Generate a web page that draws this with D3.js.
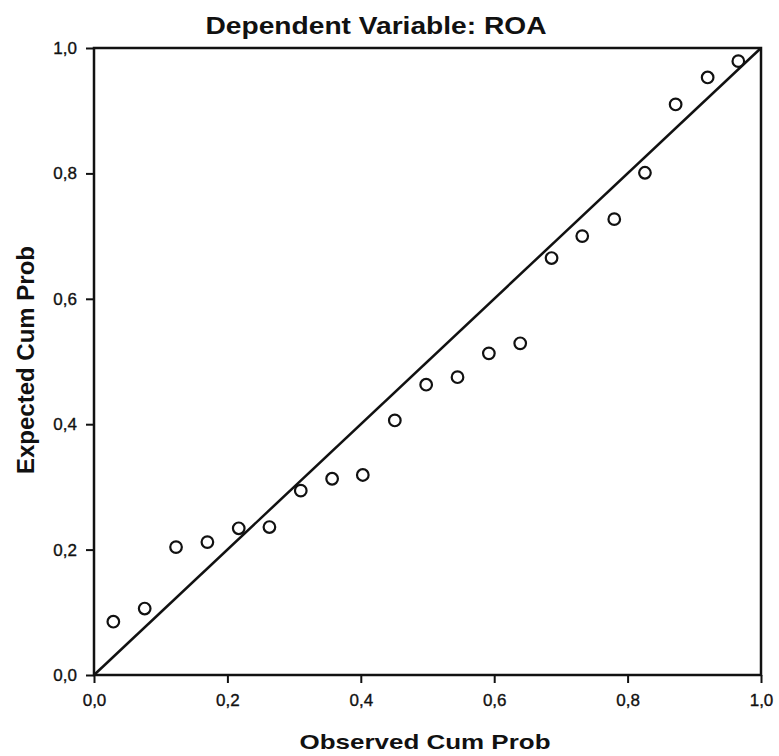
<!DOCTYPE html>
<html>
<head>
<meta charset="utf-8">
<script src="https://cdn.jsdelivr.net/npm/d3@7"></script>
<style>
  html, body { margin: 0; padding: 0; background: #fff; }
  svg { display: block; }
</style>
</head>
<body>
<svg id="chart" width="779" height="756"></svg>
<script>
// ---- Data ----
const observedCumProb = [0.029, 0.076, 0.123, 0.170, 0.217, 0.263, 0.310, 0.357, 0.403, 0.451, 0.498,
                         0.545, 0.592, 0.639, 0.686, 0.732, 0.780, 0.826, 0.872, 0.920, 0.966];
const expectedCumProb = [0.085, 0.106, 0.204, 0.212, 0.234, 0.236, 0.294, 0.313, 0.319, 0.406, 0.463,
                         0.475, 0.513, 0.529, 0.665, 0.700, 0.727, 0.801, 0.910, 0.953, 0.979];
const tickValues = [0, 0.2, 0.4, 0.6, 0.8, 1.0];
const tickLabels = ["0,0", "0,2", "0,4", "0,6", "0,8", "1,0"];
const titleText = "Dependent Variable: ROA";
const xTitle = "Observed Cum Prob";
const yTitle = "Expected Cum Prob";

// ---- Layout ----
const W = 779, H = 756;
const margin = { left: 94, right: 18, top: 48, bottom: 81 };
const svg = d3.select("#chart");
svg.append("rect").attr("width", W).attr("height", H).attr("fill", "#fff");

const x = d3.scaleLinear().domain([0, 1]).range([margin.left, W - margin.right]);
const y = d3.scaleLinear().domain([0, 1]).range([H - margin.bottom, margin.top]);

const font = "'Liberation Sans', Arial, Helvetica, sans-serif";
const labelOf = v => tickLabels[tickValues.indexOf(v)];

// Axes
const yAxis = svg.append("g")
  .attr("transform", `translate(${margin.left},0)`)
  .call(d3.axisLeft(y).tickValues(tickValues).tickFormat(labelOf).tickSize(8).tickPadding(9));
const xAxis = svg.append("g")
  .attr("transform", `translate(0,${H - margin.bottom})`)
  .call(d3.axisBottom(x).tickValues(tickValues).tickFormat(labelOf).tickSize(8).tickPadding(11));

[xAxis, yAxis].forEach(g => {
  g.select(".domain").remove();
  g.selectAll(".tick line").attr("stroke", "#111").attr("stroke-width", 2);
  g.selectAll(".tick text").attr("fill", "#111")
    .attr("stroke", "#111").attr("stroke-width", 0.35)
    .style("font-family", font).style("font-size", "17px");
});

// Frame
svg.append("rect")
  .attr("x", x(0)).attr("y", y(1))
  .attr("width", x(1) - x(0)).attr("height", y(0) - y(1))
  .attr("fill", "none").attr("stroke", "#111").attr("stroke-width", 2.5);

// Reference diagonal
svg.append("line")
  .attr("x1", x(0)).attr("y1", y(0)).attr("x2", x(1)).attr("y2", y(1))
  .attr("stroke", "#111").attr("stroke-width", 2.5);

// Points
const pts = observedCumProb.map((v, i) => ({ o: v, e: expectedCumProb[i] }));
svg.append("g").selectAll("circle").data(pts).join("circle")
  .attr("cx", d => x(d.o)).attr("cy", d => y(d.e)).attr("r", 5.8)
  .attr("fill", "none").attr("stroke", "#111").attr("stroke-width", 2.2);

// Titles
svg.append("text")
  .attr("x", 376).attr("y", 34).attr("text-anchor", "middle")
  .attr("textLength", 341).attr("lengthAdjust", "spacingAndGlyphs")
  .style("font-family", font).style("font-size", "24px").style("font-weight", "bold")
  .attr("fill", "#111").text(titleText);

svg.append("text")
  .attr("x", 425).attr("y", 749).attr("text-anchor", "middle")
  .attr("textLength", 251).attr("lengthAdjust", "spacingAndGlyphs")
  .style("font-family", font).style("font-size", "21px").style("font-weight", "bold")
  .attr("fill", "#111").text(xTitle);

svg.append("text")
  .attr("transform", "translate(34,360) rotate(-90)").attr("text-anchor", "middle")
  .style("font-family", font).style("font-size", "24px").style("font-weight", "bold")
  .attr("fill", "#111").text(yTitle);
</script>
</body>
</html>
